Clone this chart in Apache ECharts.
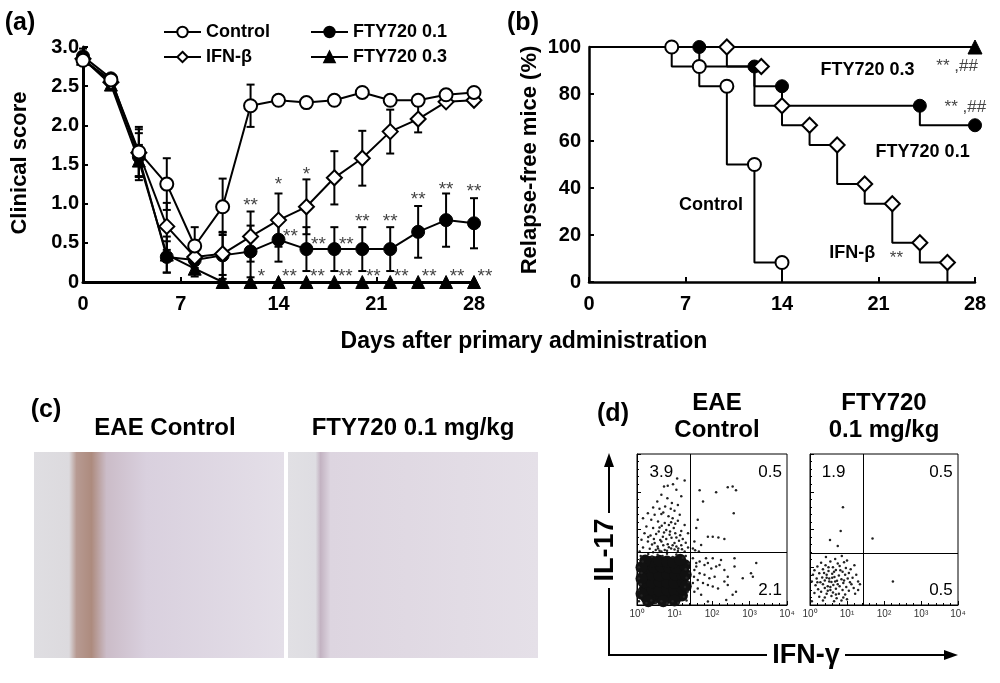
<!DOCTYPE html>
<html>
<head>
<meta charset="utf-8">
<title>FTY720 EAE figure</title>
<script src="https://cdn.jsdelivr.net/npm/echarts@6/dist/echarts.min.js"></script>
<style>
  html, body { margin: 0; padding: 0; background: #fff; }
  #chart { width: 1000px; height: 683px; }
</style>
</head>
<body>
<div id="chart"></div>
<script>
const FONT = '"Liberation Sans", Arial, sans-serif'

// ---- (a) clinical score, mean and SEM every 2 days ----
const days = [0, 2, 4, 6, 8, 10, 12, 14, 16, 18, 20, 22, 24, 26, 28]
const controlScore = [2.83, 2.58, 1.66, 1.25, 0.46, 0.96, 2.25, 2.32, 2.29, 2.32, 2.42, 2.32, 2.32, 2.39, 2.42]
const controlSem = [0.06, 0.03, 0.32, 0.33, 0.24, 0.36, 0.27, 0.05, 0.03, 0.03, 0.04, 0.03, 0.04, 0.04, 0.05]
const ifnScore = [2.85, 2.55, 1.65, 0.71, 0.32, 0.36, 0.58, 0.79, 0.96, 1.33, 1.58, 1.92, 2.08, 2.30, 2.32]
const ifnSem = [0.06, 0.03, 0.30, 0.30, 0.10, 0.27, 0.32, 0.34, 0.35, 0.34, 0.35, 0.28, 0.17, 0.05, 0.05]
const fty01Score = [2.88, 2.60, 1.60, 0.32, 0.28, 0.34, 0.39, 0.54, 0.42, 0.42, 0.42, 0.42, 0.64, 0.79, 0.75]
const fty01Sem = [0.10, 0.03, 0.30, 0.20, 0.10, 0.30, 0.33, 0.28, 0.28, 0.28, 0.28, 0.28, 0.33, 0.34, 0.32]
const fty03Score = [2.85, 2.52, 1.55, 0.35, 0.17, 0, 0, 0, 0, 0, 0, 0, 0, 0, 0]
const fty03Sem = [0.08, 0.03, 0.20, 0.23, 0.10, 0, 0, 0, 0, 0, 0, 0, 0, 0, 0]
const dayTicks = ['0', '7', '14', '21', '28']

// significance marks: [day, score level, text]
const sigIfn = [[12, 1.04, '**'], [14, 1.30, '*'], [16, 1.43, '*']]
const sigFty01Side = [[14, 0.64, '**'], [16, 0.54, '**'], [18, 0.54, '**']]
const sigFty01Top = [[20, 0.83, '**'], [22, 0.83, '**'], [24, 1.11, '**'], [26, 1.24, '**'], [28, 1.22, '**']]
const sigFty03 = [[12, 0.13, '*'], [14, 0.13, '**'], [16, 0.13, '**'], [18, 0.13, '**'], [20, 0.13, '**'],
  [22, 0.13, '**'], [24, 0.13, '**'], [26, 0.13, '**'], [28, 0.13, '**']]

// ---- (b) relapse-free mice (%), Kaplan-Meier steps [day, % after drop] ----
const kmControl = [[0, 100], [6, 91.7], [8, 83.3], [10, 50], [12, 8.3], [14, 0]]
const kmIfn = [[0, 100], [10, 91.7], [12, 75], [14, 66.7], [16, 58.3], [18, 41.7], [20, 33.3], [22, 16.7], [24, 8.3], [26, 0]]
const kmFty01 = [[0, 100], [8, 91.7], [12, 83.3], [14, 75], [24, 66.7], [28, 66.7]]
const kmFty03 = [[0, 100], [28, 100]]
const kmControlMarks = [[6, 100], [8, 91.7], [10, 83.3], [12, 50], [14, 8.3]]
const kmIfnMarks = [[10, 100], [12.5, 91.7], [14, 75], [16, 66.7], [18, 58.3], [20, 41.7], [22, 33.3], [24, 16.7], [26, 8.3]]
const kmFty01Marks = [[8, 100], [12, 91.7], [14, 83.3], [24, 75], [28, 66.7]]
const kmFty03Marks = [[28, 100]]
const kmGroupLabels = [[20.2, 90.3, 'FTY720 0.3'], [24.2, 55.3, 'FTY720 0.1'], [8.85, 32.7, 'Control'], [19.1, 12.2, 'IFN-β']]
const kmSigLabels = [[26.7, 91.8, '** ,##'], [27.3, 74.2, '** ,##'], [22.3, 10.2, '**']]

// ---- (d) flow cytometry, log10 fluorescence [IFN-γ, IL-17] ----
const decadeLabels = ['10⁰', '10¹', '10²', '10³', '10⁴']
const gateCtrl = [1.43, 1.39]
const gateFty = [1.45, 1.36]
const ctrlCore = [
  [0.25, 0.2], [0.45, 0.18], [0.65, 0.22], [0.85, 0.2], [1.05, 0.21], [1.2, 0.25],
  [0.2, 0.4], [0.4, 0.42], [0.6, 0.38], [0.8, 0.41], [1.0, 0.4], [1.21, 0.43],
  [0.18, 0.6], [0.4, 0.6], [0.6, 0.62], [0.8, 0.6], [1.0, 0.58], [1.22, 0.62],
  [0.2, 0.8], [0.4, 0.8], [0.6, 0.78], [0.8, 0.82], [1.02, 0.8], [1.2, 0.8],
  [0.25, 1.0], [0.45, 1.0], [0.65, 1.02], [0.85, 1.0], [1.05, 0.98],
  [0.4, 1.15], [0.6, 1.17], [0.8, 1.15], [0.97, 1.13],
  [1.3, 0.5], [1.3, 0.8], [1.28, 1.05], [0.22, 1.18], [1.15, 1.2],
  [0.12, 0.3], [0.12, 0.7], [0.12, 1.0], [0.3, 0.1], [0.7, 0.1], [1.0, 0.12]
]
const ctrlDots = [
  // IL-17+ IFN-γ- (3.9)
  [1.07, 3.35], [1.27, 3.30], [0.72, 3.14], [0.82, 3.16], [0.96, 3.20], [1.05, 3.05], [0.65, 2.92], [0.81, 2.83],
  [1.18, 2.88], [0.54, 2.74], [0.93, 2.70], [1.09, 2.65], [0.43, 2.58], [0.60, 2.55], [0.75, 2.61], [1.00, 2.50],
  [0.29, 2.43], [0.47, 2.39], [0.65, 2.41], [0.84, 2.35], [1.14, 2.39], [0.16, 2.30], [0.38, 2.26], [0.56, 2.21],
  [0.74, 2.17], [0.91, 2.19], [1.09, 2.23], [1.27, 2.12], [0.25, 2.08], [0.43, 2.04], [0.60, 2.05], [0.78, 1.99],
  [0.98, 2.04], [1.18, 1.96], [1.36, 1.90], [0.20, 1.90], [0.36, 1.84], [0.51, 1.88], [0.69, 1.81], [0.87, 1.86],
  [1.05, 1.79], [1.22, 1.75], [0.12, 1.73], [0.29, 1.68], [0.47, 1.64], [0.65, 1.68], [0.82, 1.61], [1.00, 1.64],
  [1.18, 1.58], [1.36, 1.52], [0.16, 1.52], [0.34, 1.49], [0.56, 1.50], [0.74, 1.46], [0.91, 1.50], [1.09, 1.43],
  [1.27, 1.42], [0.07, 1.42], [0.43, 1.40], [0.65, 1.42], [0.55, 1.55], [0.70, 1.58], [0.85, 1.53], [0.95, 1.58],
  [1.05, 1.55], [0.62, 1.72], [0.78, 1.75], [0.92, 1.78], [1.12, 1.70], [0.58, 1.95], [0.72, 1.92], [0.88, 1.95],
  [1.02, 1.90], [0.66, 2.10], [0.85, 2.12], [1.02, 2.15], [0.50, 1.46], [0.80, 1.44], [1.00, 1.47], [1.20, 1.48],
  [0.40, 1.60], [0.30, 1.80], [1.30, 1.65], [1.15, 1.85], [0.95, 2.30], [0.70, 2.45], [0.90, 2.55], [1.10, 1.50],
  [0.45, 1.75], [0.60, 1.44],
  // IL-17+ IFN-γ+ (0.5)
  [1.67, 3.04], [2.11, 2.99], [2.42, 3.12], [2.55, 3.14], [2.64, 3.04], [1.76, 2.74], [2.58, 2.43], [1.62, 2.26],
  [1.89, 1.81], [2.02, 1.81], [2.17, 1.79], [2.33, 1.75], [1.58, 2.04], [1.53, 1.68], [1.71, 1.59], [1.49, 1.50],
  [1.55, 1.45], [1.65, 1.42],
  // IL-17- IFN-γ+ (2.1)
  [1.49, 1.24], [1.58, 1.11], [1.67, 1.15], [1.80, 1.06], [1.89, 1.11], [1.98, 0.97], [2.11, 1.02], [2.20, 1.06],
  [2.33, 0.93], [1.53, 0.93], [1.67, 0.84], [1.80, 0.80], [1.93, 0.71], [2.07, 0.75], [1.62, 0.66], [1.76, 0.58],
  [1.89, 0.53], [2.02, 0.49], [2.16, 0.44], [2.33, 0.62], [2.42, 0.53], [2.60, 1.24], [2.60, 1.02], [2.82, 0.71],
  [3.04, 0.84], [3.09, 0.75], [3.18, 1.11], [2.55, 0.27], [2.38, 0.13], [2.64, 0.35], [1.71, 0.27], [1.89, 0.09],
  [1.53, 0.35], [1.62, 0.44], [1.49, 0.58], [1.52, 0.75], [1.58, 1.02], [1.84, 1.24], [2.02, 1.24], [2.24, 1.19],
  [2.42, 0.75],
  // fringe of the double-negative cloud
  [0.05, 0.10], [0.05, 0.40], [0.05, 0.70], [0.05, 1.00], [0.10, 1.30], [0.30, 1.35], [0.55, 1.33], [0.80, 1.36],
  [1.05, 1.34], [1.30, 1.30], [1.38, 1.10], [1.40, 0.85], [1.38, 0.60], [1.35, 0.35], [1.32, 0.12], [1.10, 0.05],
  [0.80, 0.04], [0.50, 0.06], [0.25, 0.05], [0.12, 0.25], [0.10, 0.55], [0.12, 0.85], [0.15, 1.15], [0.40, 1.28],
  [0.68, 1.30], [0.95, 1.27], [1.22, 1.25], [1.30, 0.95], [1.32, 0.72], [1.28, 0.48], [1.25, 0.22], [0.95, 0.10],
  [0.65, 0.10], [0.38, 0.12]
]
const ftyDots = [
  [0.89, 2.59], [0.83, 1.96], [0.54, 1.72], [0.75, 1.56], [1.69, 1.76], [2.24, 0.62],
  [0.43, 1.27], [0.68, 1.22], [0.86, 1.30], [1.00, 1.18], [0.30, 1.12], [0.55, 1.15], [0.75, 1.10], [0.92, 1.13],
  [1.20, 1.05], [0.20, 1.02], [0.42, 1.05], [0.62, 1.00], [0.80, 1.03], [0.97, 0.98], [1.10, 0.95], [0.12, 0.92],
  [0.35, 0.95], [0.50, 0.90], [0.70, 0.93], [0.88, 0.88], [1.05, 0.85], [1.25, 0.80], [0.08, 0.80], [0.25, 0.84],
  [0.45, 0.80], [0.60, 0.83], [0.78, 0.78], [0.95, 0.80], [1.15, 0.72], [0.18, 0.70], [0.33, 0.73], [0.52, 0.70],
  [0.66, 0.74], [0.85, 0.68], [1.02, 0.70], [1.30, 0.62], [0.05, 0.62], [0.28, 0.60], [0.40, 0.65], [0.58, 0.61],
  [0.73, 0.64], [0.90, 0.58], [1.08, 0.60], [0.15, 0.52], [0.35, 0.55], [0.48, 0.50], [0.63, 0.53], [0.80, 0.50],
  [0.98, 0.48], [1.18, 0.45], [0.22, 0.42], [0.40, 0.45], [0.55, 0.40], [0.70, 0.43], [0.88, 0.40], [1.05, 0.38],
  [0.12, 0.32], [0.30, 0.35], [0.45, 0.30], [0.62, 0.33], [0.78, 0.30], [0.95, 0.28], [1.22, 0.30], [0.25, 0.22],
  [0.40, 0.20], [0.58, 0.24], [0.72, 0.18], [0.90, 0.20], [0.05, 0.10], [0.35, 0.12], [0.65, 0.10], [0.85, 0.12],
  [1.00, 0.15], [1.30, 0.40], [1.35, 0.55], [0.50, 1.00], [0.65, 0.88], [0.75, 0.55], [0.52, 0.62], [0.60, 0.72],
  [0.45, 0.72], [0.68, 0.62], [0.82, 0.92], [0.38, 0.85], [0.55, 0.48], [0.92, 0.65], [1.12, 0.55], [0.20, 0.60],
  [0.48, 0.38], [0.70, 0.28]
]
const ctrlQuadrants = [[0.65, 3.52, '3.9'], [3.55, 3.52, '0.5'], [3.55, 0.39, '2.1']]
const ftyQuadrants = [[0.64, 3.52, '1.9'], [3.54, 3.52, '0.5'], [3.54, 0.39, '0.5']]

// ---------------------------------------------------------------
const chart = echarts.init(document.getElementById('chart'))

const withBars = (score, sem) => days.map((d, i) => [d, Math.max(0, score[i] - sem[i]), score[i] + sem[i], sem[i]])
const errorBars = [
  ...withBars(controlScore, controlSem),
  ...withBars(ifnScore, ifnSem),
  ...withBars(fty01Score, fty01Sem),
  ...withBars(fty03Score, fty03Sem)
].filter(b => b[3] > 0)

const renderErrorBar = (params, api) => {
  const top = api.coord([api.value(0), api.value(2)])
  const bot = api.coord([api.value(0), api.value(1)])
  const w = 4
  const style = { stroke: '#000', lineWidth: 2 }
  return {
    type: 'group',
    children: [
      { type: 'line', shape: { x1: top[0], y1: top[1], x2: bot[0], y2: bot[1] }, style },
      { type: 'line', shape: { x1: top[0] - w, y1: top[1], x2: top[0] + w, y2: top[1] }, style },
      { type: 'line', shape: { x1: bot[0] - w, y1: bot[1], x2: bot[0] + w, y2: bot[1] }, style }
    ]
  }
}

const pairs = (values) => days.map((d, i) => [d, values[i]])
const named = (list) => list.map(s => ({ name: s[2], value: [s[0], s[1]] }))

const openStyle = { color: '#fff', borderColor: '#000', borderWidth: 2, opacity: 1 }
const solidStyle = { color: '#000', borderColor: '#000', borderWidth: 1, opacity: 1 }

const scoreLine = (name, values, symbol, size, itemStyle) => ({
  name, type: 'line', xAxisIndex: 0, yAxisIndex: 0, data: pairs(values),
  symbol, symbolSize: size, showAllSymbol: true, itemStyle,
  lineStyle: { color: '#000', width: 2 }, z: 3
})

const textLayer = (axis, list, label) => ({
  type: 'scatter', xAxisIndex: axis, yAxisIndex: axis, data: named(list),
  symbolSize: 1, itemStyle: { color: 'rgba(0,0,0,0)', opacity: 1 }, silent: true, z: 6,
  label: Object.assign({
    show: true, position: 'inside', formatter: '{b}', fontFamily: FONT,
    textBorderWidth: 0, opacity: 1
  }, label)
})

const starLabel = { fontSize: 19, color: '#444', fontFamily: FONT }

const kmLine = (data) => ({
  type: 'line', xAxisIndex: 1, yAxisIndex: 1, data, step: 'end', symbol: 'none',
  lineStyle: { color: '#000', width: 2 }, z: 2
})
const kmMarks = (data, symbol, size, itemStyle) => ({
  type: 'scatter', xAxisIndex: 1, yAxisIndex: 1, data, symbol, symbolSize: size, itemStyle, z: 4
})

const flowX = (grid) => ({
  gridIndex: grid, type: 'value', min: 0, max: 4, interval: 1,
  axisLine: { lineStyle: { color: '#000', width: 1 } },
  axisTick: { inside: true, length: 4, lineStyle: { color: '#000' } },
  minorTick: { show: true, splitNumber: 5, length: 2, lineStyle: { color: '#000' } },
  axisLabel: { formatter: (v) => decadeLabels[v], fontSize: 10, color: '#333', margin: 4, fontFamily: FONT },
  splitLine: { show: false }
})
const flowY = (grid) => ({
  gridIndex: grid, type: 'value', min: 0, max: 4, interval: 1,
  axisLine: { lineStyle: { color: '#000', width: 1 } },
  axisTick: { inside: true, length: 4, lineStyle: { color: '#000' } },
  minorTick: { show: true, splitNumber: 5, length: 2, lineStyle: { color: '#000' } },
  axisLabel: { show: false }, splitLine: { show: false }
})
const gateLines = (gate) => ({
  silent: true, symbol: 'none', label: { show: false },
  lineStyle: { color: '#000', width: 1, type: 'solid' },
  data: [{ xAxis: gate[0] }, { yAxis: gate[1] }]
})

const legendBase = {
  padding: 0, itemGap: 0, itemWidth: 37, itemHeight: 13,
  textStyle: { fontSize: 18, fontWeight: 'bold', color: '#000', fontFamily: FONT }
}

const boldText = (text, x, y, size, extra) => Object.assign({
  type: 'text', x, y, silent: true,
  style: { text, font: 'bold ' + size + 'px ' + FONT, fill: '#000', textAlign: 'center', textVerticalAlign: 'middle' }
}, extra)

const arrowHead = (points) => ({ type: 'polygon', shape: { points }, style: { fill: '#000' }, silent: true })
const segment = (x1, y1, x2, y2) => ({ type: 'line', shape: { x1, y1, x2, y2 }, style: { stroke: '#000', lineWidth: 2 }, silent: true })

const slide = (x, stops) => ({
  type: 'rect', shape: { x, y: 452, width: 250, height: 206 }, silent: true,
  style: { fill: { type: 'linear', x: 0, y: 0, x2: 1, y2: 0, colorStops: stops } }
})

const mainAxisLabel = { fontSize: 20, fontWeight: 'bold', color: '#000', fontFamily: FONT }

chart.setOption({
  animation: false,
  backgroundColor: '#fff',
  grid: [
    { left: 83, top: 47, width: 391, height: 235 },
    { left: 589, top: 47, width: 386, height: 235 },
    { left: 637, top: 454, width: 150, height: 151, show: true, borderColor: '#000', borderWidth: 1 },
    { left: 810, top: 454, width: 148, height: 151, show: true, borderColor: '#000', borderWidth: 1 }
  ],
  xAxis: [
    {
      gridIndex: 0, type: 'value', min: 0, max: 28, interval: 7,
      axisLine: { lineStyle: { color: '#000', width: 3 } },
      axisTick: { inside: true, length: 5, lineStyle: { color: '#000', width: 2 } },
      axisLabel: Object.assign({ margin: 12, formatter: (v) => dayTicks[v / 7] }, mainAxisLabel),
      splitLine: { show: false }
    },
    {
      gridIndex: 1, type: 'value', min: 0, max: 28, interval: 7,
      axisLine: { lineStyle: { color: '#000', width: 2.5 } },
      axisTick: { inside: true, length: 5, lineStyle: { color: '#000', width: 2 } },
      axisLabel: Object.assign({ margin: 12, formatter: (v) => dayTicks[v / 7] }, mainAxisLabel),
      splitLine: { show: false }
    },
    flowX(2), flowX(3)
  ],
  yAxis: [
    {
      gridIndex: 0, type: 'value', min: 0, max: 3, interval: 0.5,
      axisLine: { show: true, lineStyle: { color: '#000', width: 3 } },
      axisTick: { show: true, inside: true, length: 5, lineStyle: { color: '#000', width: 2 } },
      axisLabel: Object.assign({ margin: 4, formatter: (v) => v === 0 ? '0' : v.toFixed(1) }, mainAxisLabel),
      splitLine: { show: false }
    },
    {
      gridIndex: 1, type: 'value', min: 0, max: 100, interval: 20,
      axisLine: { show: true, lineStyle: { color: '#000', width: 2.5 } },
      axisTick: { show: true, inside: true, length: 5, lineStyle: { color: '#000', width: 2 } },
      axisLabel: Object.assign({ margin: 8 }, mainAxisLabel),
      splitLine: { show: false }
    },
    flowY(2), flowY(3)
  ],
  legend: [
    Object.assign({ data: ['Control'], left: 163, top: 23 }, legendBase),
    Object.assign({ data: ['FTY720 0.1'], left: 310, top: 23 }, legendBase),
    Object.assign({ data: ['IFN-β'], left: 163, top: 48 }, legendBase),
    Object.assign({ data: ['FTY720 0.3'], left: 310, top: 48 }, legendBase)
  ],
  series: [
    {
      type: 'custom', xAxisIndex: 0, yAxisIndex: 0, data: errorBars,
      renderItem: renderErrorBar, encode: { x: 0, y: [1, 2] }, silent: true, z: 2
    },
    scoreLine('FTY720 0.3', fty03Score, 'triangle', 13, solidStyle),
    scoreLine('FTY720 0.1', fty01Score, 'circle', 13, solidStyle),
    scoreLine('IFN-β', ifnScore, 'diamond', 15, openStyle),
    scoreLine('Control', controlScore, 'circle', 13, openStyle),
    textLayer(0, sigIfn, Object.assign({ offset: [0, 5] }, starLabel)),
    textLayer(0, sigFty01Side, Object.assign({ offset: [12, 5] }, starLabel)),
    textLayer(0, sigFty01Top, Object.assign({ offset: [0, 5] }, starLabel)),
    textLayer(0, sigFty03, Object.assign({ offset: [11, 5] }, starLabel)),

    kmLine(kmFty03), kmLine(kmFty01), kmLine(kmIfn), kmLine(kmControl),
    kmMarks(kmFty03Marks, 'triangle', 14, solidStyle),
    kmMarks(kmFty01Marks, 'circle', 13, solidStyle),
    kmMarks(kmIfnMarks, 'diamond', 15, openStyle),
    kmMarks(kmControlMarks, 'circle', 13, openStyle),
    textLayer(1, kmGroupLabels, { fontSize: 18, fontWeight: 'bold', color: '#000' }),
    textLayer(1, kmSigLabels, { fontSize: 17, color: '#444' }),

    {
      type: 'scatter', xAxisIndex: 2, yAxisIndex: 2, data: ctrlCore, symbolSize: 12,
      itemStyle: { color: '#111', opacity: 1 }, silent: true, z: 3
    },
    {
      type: 'scatter', xAxisIndex: 2, yAxisIndex: 2, data: ctrlDots, symbolSize: 2.5,
      itemStyle: { color: '#222', opacity: 1 }, silent: true, z: 3, markLine: gateLines(gateCtrl)
    },
    {
      type: 'scatter', xAxisIndex: 3, yAxisIndex: 3, data: ftyDots, symbolSize: 2.5,
      itemStyle: { color: '#222', opacity: 1 }, silent: true, z: 3, markLine: gateLines(gateFty)
    },
    textLayer(2, ctrlQuadrants, { fontSize: 17, color: '#000' }),
    textLayer(3, ftyQuadrants, { fontSize: 17, color: '#000' })
  ],
  graphic: [
    boldText('(a)', 20, 23, 25),
    boldText('(b)', 523, 23, 25),
    boldText('(c)', 46, 410, 25),
    boldText('(d)', 613, 414, 25),
    boldText('Clinical score', 20, 163, 22, { rotation: Math.PI / 2 }),
    boldText('Relapse-free mice (%)', 530, 160, 22, { rotation: Math.PI / 2 }),
    boldText('Days after primary administration', 524, 342, 23),

    // (c) immunostained spinal cord sections, drawn as tinted panels
    boldText('EAE Control', 165, 428, 24),
    boldText('FTY720 0.1 mg/kg', 413, 428, 24),
    slide(34, [
      { offset: 0, color: '#dfdee2' }, { offset: 0.14, color: '#dcdade' },
      { offset: 0.17, color: '#b79a92' }, { offset: 0.23, color: '#ad8b7e' },
      { offset: 0.29, color: '#cbbcc8' }, { offset: 0.45, color: '#d9d0de' },
      { offset: 1, color: '#e4dfe8' }
    ]),
    slide(288, [
      { offset: 0, color: '#e1e0e4' }, { offset: 0.11, color: '#dedde2' },
      { offset: 0.13, color: '#c3b3c2' }, { offset: 0.17, color: '#ddd5e0' },
      { offset: 1, color: '#e5e0e8' }
    ]),

    // (d) headings and axis arrows
    boldText('EAE', 717, 403, 24),
    boldText('Control', 717, 430, 24),
    boldText('FTY720', 884, 403, 24),
    boldText('0.1 mg/kg', 884, 430, 24),
    boldText('IL-17', 606, 550, 27, { rotation: Math.PI / 2 }),
    boldText('IFN-γ', 806, 656, 27),
    segment(609, 466, 609, 513),
    segment(609, 588, 609, 655),
    segment(608, 655, 767, 655),
    segment(845, 655, 946, 655),
    arrowHead([[609, 453], [604, 467], [614, 467]]),
    arrowHead([[958, 655], [944, 650], [944, 660]])
  ]
})
</script>
</body>
</html>
